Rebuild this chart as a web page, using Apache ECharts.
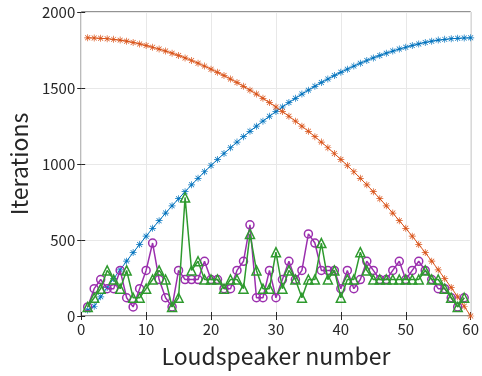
<!DOCTYPE html>
<html>
<head>
<meta charset="utf-8">
<script src="https://cdn.jsdelivr.net/npm/echarts@6/dist/echarts.min.js"></script>
<style>
  html, body { margin: 0; padding: 0; background: #fff; }
  #chart { width: 482px; height: 376px; }
</style>
</head>
<body>
<div id="chart"></div>
<script>
// loudspeaker numbers
const speakers = [1,2,3,4,5,6,7,8,9,10,11,12,13,14,15,16,17,18,19,20,
  21,22,23,24,25,26,27,28,29,30,31,32,33,34,35,36,37,38,39,40,
  41,42,43,44,45,46,47,48,49,50,51,52,53,54,55,56,57,58,59,60];

// blue asterisks (rising)
const blueVals = [40,64,126,187,246,304,361,417,471,525,577,627,677,725,772,818,863,906,949,990,
  1030,1069,1107,1144,1180,1215,1249,1282,1314,1345,1375,1404,1432,1460,1486,1511,1536,1559,1582,1603,
  1624,1644,1663,1681,1698,1714,1729,1743,1756,1768,1779,1790,1800,1808,1815,1820,1824,1827,1829,1830];

// orange asterisks (falling)
const orangeVals = [1830,1829,1827,1824,1820,1815,1808,1800,1790,1779,1768,1756,1743,1729,1714,1698,1681,1663,1644,1624,
  1603,1582,1559,1536,1511,1486,1460,1432,1404,1375,1345,1314,1282,1249,1215,1180,1144,1107,1069,1030,
  990,949,906,863,818,772,725,677,627,577,525,471,417,361,304,246,187,126,64,0];

// purple circles (speakers 1..59)
const purpleVals = [60,180,240,180,180,300,120,60,180,300,480,240,120,60,300,240,240,240,360,240,
  240,180,180,300,360,600,120,120,300,120,240,360,240,300,540,480,300,300,300,180,
  300,180,240,360,300,240,240,300,360,240,300,360,300,240,180,180,120,60,120];

// green triangles (speakers 1..59)
const greenVals = [60,120,180,300,240,180,300,120,120,180,240,300,240,60,120,780,300,360,240,240,
  240,180,240,240,180,540,300,180,180,420,180,300,240,120,240,240,480,240,300,120,
  240,240,420,300,240,240,240,240,240,240,240,240,300,240,240,180,120,60,120];

const yTicks = [0, 500, 1000, 1500, 2000];

const pairs = (vals) => vals.map((v, i) => [speakers[i], v]);

// asterisk marker made of thin bars
const star = 'path://M9,0h2v20h-2z M0,9h20v2h-20z M2.2,3.6l1.4,-1.4l14.2,14.2l-1.4,1.4z M16.4,2.2l1.4,1.4l-14.2,14.2l-1.4,-1.4z';

const chart = echarts.init(document.getElementById('chart'));
const txt = '#262626';
const font = '"Noto Sans CJK JP", "Liberation Sans", sans-serif';

chart.setOption({
  animation: false,
  backgroundColor: '#fff',
  grid: { left: 78, right: 9, top: 12, bottom: 60, show: true, borderColor: '#262626', borderWidth: 1 },
  xAxis: [{
    type: 'value', min: 0, max: 60, interval: 10,
    name: 'Loudspeaker number', nameLocation: 'middle', nameGap: 29,
    nameTextStyle: { color: txt, fontSize: 23, fontFamily: font },
    axisLine: { show: false },
    axisTick: { inside: true, length: 4, lineStyle: { color: '#262626' } },
    axisLabel: { color: txt, fontSize: 15, fontFamily: font, margin: 6 },
    splitLine: { show: true, lineStyle: { color: '#e8e8e8', width: 1 } }
  }, {
    type: 'value', min: 0, max: 60, interval: 10, position: 'top',
    axisLine: { show: false }, axisLabel: { show: false }, splitLine: { show: false },
    axisTick: { inside: true, length: 4, lineStyle: { color: '#262626' } }
  }],
  yAxis: [{
    type: 'value', min: 0, max: 2000, interval: 500,
    name: 'Iterations', nameLocation: 'middle', nameGap: 49,
    nameTextStyle: { color: txt, fontSize: 23, fontFamily: font },
    axisLine: { show: false },
    axisTick: { inside: true, length: 4, lineStyle: { color: '#262626' } },
    axisLabel: { color: txt, fontSize: 15, fontFamily: font, margin: 6,
      formatter: (v) => yTicks.includes(v) ? String(v) : '' },
    splitLine: { show: true, lineStyle: { color: '#e8e8e8', width: 1 } }
  }, {
    type: 'value', min: 0, max: 2000, interval: 500, position: 'right',
    axisLine: { show: false }, axisLabel: { show: false }, splitLine: { show: false },
    axisTick: { inside: true, length: 4, lineStyle: { color: '#262626' } }
  }],
  series: [
    {
      name: 'blue', type: 'line', data: pairs(blueVals),
      symbol: star, symbolSize: 7, showAllSymbol: true,
      lineStyle: { color: '#0072BD', width: 1 },
      itemStyle: { color: '#0072BD' }, z: 2
    },
    {
      name: 'orange', type: 'line', data: pairs(orangeVals),
      symbol: star, symbolSize: 7, showAllSymbol: true,
      lineStyle: { color: '#D95319', width: 1 },
      itemStyle: { color: '#D95319' }, z: 2
    },
    {
      name: 'purple', type: 'line', data: pairs(purpleVals),
      symbol: 'circle', symbolSize: 8, showAllSymbol: true,
      lineStyle: { color: '#9B2FAE', width: 1.5 },
      itemStyle: { color: 'rgba(0,0,0,0)', borderColor: '#9B2FAE', borderWidth: 1.5 }, z: 3
    },
    {
      name: 'green', type: 'line', data: pairs(greenVals),
      symbol: 'triangle', symbolSize: 9, showAllSymbol: true,
      lineStyle: { color: '#2E9A2E', width: 1.5 },
      itemStyle: { color: 'rgba(0,0,0,0)', borderColor: '#2E9A2E', borderWidth: 1.5 }, z: 4
    }
  ]
});
</script>
</body>
</html>
